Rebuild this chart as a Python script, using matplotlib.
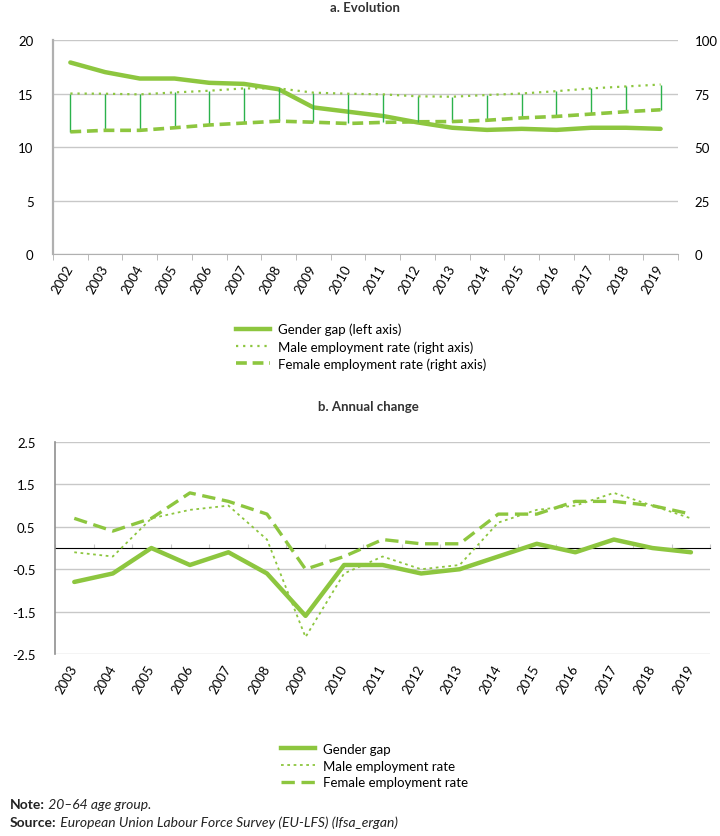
import matplotlib
matplotlib.use("Agg")
import matplotlib.pyplot as plt
import numpy as np
from matplotlib.lines import Line2D

plt.rcParams['font.family'] = ['Lato', 'DejaVu Sans']

# Panel a: levels
years_a = ['2002', '2003', '2004', '2005', '2006', '2007', '2008', '2009', '2010',
           '2011', '2012', '2013', '2014', '2015', '2016', '2017', '2018', '2019']
gap = [17.9, 17.0, 16.4, 16.4, 16.0, 15.9, 15.4, 13.7, 13.3,
       12.9, 12.3, 11.8, 11.6, 11.7, 11.6, 11.8, 11.8, 11.7]
male = [75.0, 74.9, 74.6, 75.5, 76.3, 77.4, 77.4, 75.4, 74.9,
        74.6, 73.7, 73.5, 74.3, 75.0, 76.1, 77.4, 78.3, 79.2]
female = [57.1, 57.8, 57.8, 59.0, 60.3, 61.2, 62.1, 61.6, 61.0,
          61.5, 61.8, 61.9, 62.5, 63.6, 64.3, 65.4, 66.5, 67.4]

# Panel b: annual change
years_b = years_a[1:]
gap_chg = [-0.8, -0.6, 0.0, -0.4, -0.1, -0.6, -1.6, -0.4, -0.4,
           -0.6, -0.5, -0.2, 0.1, -0.1, 0.2, 0.0, -0.1]
male_chg = [-0.1, -0.2, 0.7, 0.9, 1.0, 0.2, -2.1, -0.6, -0.2,
            -0.5, -0.4, 0.6, 0.9, 1.0, 1.3, 1.0, 0.7]
female_chg = [0.7, 0.4, 0.7, 1.3, 1.1, 0.8, -0.5, -0.2, 0.2,
              0.1, 0.1, 0.8, 0.8, 1.1, 1.1, 1.0, 0.8]

green = '#8DC63F'
dark_green = '#2BB24C'
grid_col = '#C8C8C8'
spine_col = '#B0B0B0'
fs = 9.5

fig = plt.figure(figsize=(7.2, 8.37), dpi=100)

# ---------- a. Evolution ----------
ax = fig.add_axes([0.0736, 0.6953, 0.868, 0.2557])
x = np.arange(len(years_a))
ax.plot(x, gap, color=green, lw=3.2, solid_capstyle='round', zorder=4)
ax.set_xlim(-0.5, len(years_a) - 0.5)
ax.set_ylim(0, 20)
ax.set_yticks([0, 5, 10, 15, 20])
ax.grid(axis='y', color=grid_col, lw=1)
ax.set_axisbelow(True)
for s in ['top', 'right']:
    ax.spines[s].set_visible(False)
ax.spines['left'].set_color(spine_col)
ax.spines['left'].set_linewidth(1.6)
ax.spines['bottom'].set_color(spine_col)
ax.set_xticks(x)
ax.set_xticklabels(years_a, rotation=60, ha='right', va='center', rotation_mode='anchor', fontsize=fs)
ax.set_xticks(np.arange(-0.5, len(years_a)), minor=True)
ax.tick_params(axis='x', which='major', length=0, pad=8)
ax.tick_params(axis='x', which='minor', length=4, color=spine_col)
ax.tick_params(axis='y', length=0, labelsize=fs, pad=14)

# right axis: employment rates with high-low lines
ax2 = ax.twinx()
ax2.vlines(x, female, male, color=dark_green, lw=1, zorder=2)
ax2.plot(x, male, color=green, lw=1.6, linestyle=(0, (1, 2.2)), zorder=3)
ax2.plot(x, female, color=green, lw=2.6, linestyle=(0, (3, 1.6)), zorder=3)
ax2.set_ylim(0, 100)
ax2.set_yticks([0, 25, 50, 75, 100])
ax2.tick_params(axis='y', length=0, labelsize=fs, pad=12)
for s in ax2.spines.values():
    s.set_visible(False)

fig.text(0.507, 0.990, 'a. Evolution', ha='center', va='center', fontsize=fs,
         fontweight='bold', color='#333333')

handles_a = [Line2D([], [], color=green, lw=3.2),
             Line2D([], [], color=green, lw=1.6, linestyle=(0, (1, 2.2))),
             Line2D([], [], color=green, lw=2.6, linestyle=(0, (3, 1.6)))]
fig.legend(handles_a, ['Gender gap (left axis)', 'Male employment rate (right axis)',
                       'Female employment rate (right axis)'],
           loc='upper left', bbox_to_anchor=(0.318, 0.621), frameon=False, fontsize=fs,
           handlelength=2.6, handletextpad=0.6, labelspacing=0.35, borderpad=0)

# ---------- b. Annual change ----------
bx = fig.add_axes([0.0764, 0.2174, 0.910, 0.2533])
xb = np.arange(len(years_b))
bx.plot(xb, male_chg, color=green, lw=1.3, linestyle=(0, (1.5, 2)), zorder=3)
bx.plot(xb, female_chg, color=green, lw=2.4, linestyle=(0, (4, 2)), zorder=3)
bx.plot(xb, gap_chg, color=green, lw=3.2, solid_capstyle='round', zorder=4)
bx.set_xlim(-0.5, len(years_b) - 0.5)
bx.set_ylim(-2.5, 2.5)
bx.set_yticks([-2.5, -1.5, -0.5, 0.5, 1.5, 2.5])
bx.set_yticklabels(['-2.5', '-1.5', '-0.5', '0.5', '1.5', '2.5'])
bx.grid(axis='y', color=grid_col, lw=1)
bx.set_axisbelow(True)
for s in ['top', 'right', 'bottom']:
    bx.spines[s].set_visible(False)
bx.spines['left'].set_color('#909090')
bx.spines['left'].set_linewidth(1.2)
bx.set_xticks(xb)
bx.set_xticklabels(years_b, rotation=60, ha='right', va='center', rotation_mode='anchor', fontsize=fs)
bx.tick_params(axis='x', length=0, pad=8)
bx.tick_params(axis='y', length=0, labelsize=fs, pad=14)

# zero line with category ticks
zero = bx.secondary_xaxis(0.5)
zero.set_xticks(np.arange(-0.5, len(years_b)))
zero.set_xticklabels([])
zero.tick_params(length=3, color=grid_col)
zero.spines['bottom'].set_color('#707070')
zero.spines['bottom'].set_linewidth(1)

fig.text(0.511, 0.5137, 'b. Annual change', ha='center', va='center', fontsize=fs,
         fontweight='bold', color='#333333')

handles_b = [Line2D([], [], color=green, lw=3.2),
             Line2D([], [], color=green, lw=1.3, linestyle=(0, (1.5, 2))),
             Line2D([], [], color=green, lw=2.4, linestyle=(0, (4, 2)))]
fig.legend(handles_b, ['Gender gap', 'Male employment rate', 'Female employment rate'],
           loc='upper left', bbox_to_anchor=(0.381, 0.119), frameon=False, fontsize=fs,
           handlelength=2.6, handletextpad=0.6, labelspacing=0.35, borderpad=0)

# ---------- note and source ----------
t1 = fig.text(0.014, 1 - 805 / 837, 'Note:', fontsize=10, fontweight='bold',
              va='center', color='#222222')
ax.annotate(' 20–64 age group.', xy=(1, 0.5), xycoords=t1, va='center', fontsize=10,
            style='italic', color='#222222')
t2 = fig.text(0.014, 1 - 823 / 837, 'Source:', fontsize=10, fontweight='bold',
              va='center', color='#222222')
ax.annotate(' European Union Labour Force Survey (EU-LFS) (lfsa_ergan)', xy=(1, 0.5), xycoords=t2,
            va='center', fontsize=10, style='italic', color='#222222')

fig.savefig('out.png', dpi=100)
